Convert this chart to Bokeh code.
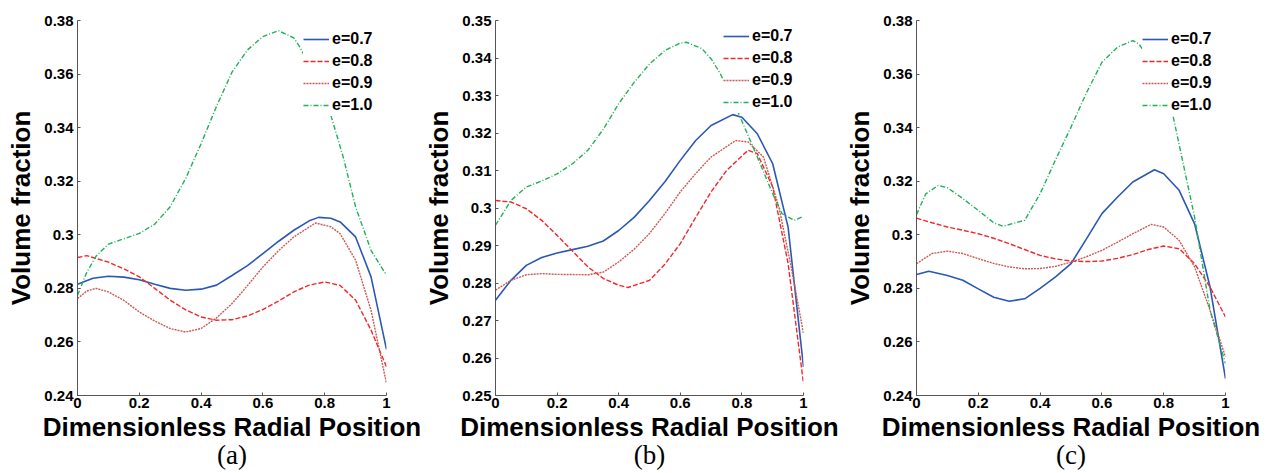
from bokeh.plotting import figure
from bokeh.models import FixedTicker, Legend, LegendItem, LinearAxis
from bokeh.layouts import row
from bokeh.embed import file_html
from bokeh.resources import INLINE

# ---------------- data ----------------
series_labels = ["e=0.7", "e=0.8", "e=0.9", "e=1.0"]
x_ticks = [0, 0.2, 0.4, 0.6, 0.8, 1]
x_tick_labels = ["0", "0.2", "0.4", "0.6", "0.8", "1"]
y_ticks_ac = [0.24, 0.26, 0.28, 0.3, 0.32, 0.34, 0.36, 0.38]
y_tick_labels_ac = ["0.24", "0.26", "0.28", "0.3", "0.32", "0.34", "0.36", "0.38"]
y_ticks_b = [0.25, 0.26, 0.27, 0.28, 0.29, 0.3, 0.31, 0.32, 0.33, 0.34, 0.35]
y_tick_labels_b = ["0.25", "0.26", "0.27", "0.28", "0.29", "0.3", "0.31", "0.32", "0.33", "0.34", "0.35"]
captions = ["(a)", "(b)", "(c)"]

# panel (a)
a_x07 = [0, 0.05, 0.1, 0.15, 0.2, 0.25, 0.3, 0.35, 0.4, 0.45, 0.5, 0.55, 0.6, 0.65, 0.7, 0.75, 0.78, 0.82, 0.85, 0.9, 0.95, 1.0]
a_y07 = [0.2815, 0.2838, 0.2845, 0.2842, 0.2832, 0.2815, 0.2800, 0.2793, 0.2797, 0.2812, 0.2848, 0.2885, 0.2930, 0.2975, 0.3017, 0.3052, 0.3065, 0.3062, 0.3048, 0.2992, 0.2843, 0.2572]
a_x08 = [0, 0.03, 0.1, 0.15, 0.2, 0.25, 0.3, 0.35, 0.4, 0.45, 0.5, 0.55, 0.6, 0.65, 0.7, 0.75, 0.8, 0.85, 0.9, 0.95, 1.0]
a_y08 = [0.2915, 0.2922, 0.2898, 0.2873, 0.2843, 0.2800, 0.2756, 0.2720, 0.2693, 0.2681, 0.2683, 0.2697, 0.2721, 0.2752, 0.2787, 0.2812, 0.2824, 0.2811, 0.2756, 0.2644, 0.2507]
a_x09 = [0, 0.03, 0.06, 0.1, 0.15, 0.2, 0.25, 0.3, 0.35, 0.4, 0.45, 0.5, 0.55, 0.6, 0.65, 0.7, 0.77, 0.82, 0.85, 0.9, 0.95, 1.0]
a_y09 = [0.2762, 0.2790, 0.2800, 0.2787, 0.2755, 0.2712, 0.2678, 0.2650, 0.2637, 0.2650, 0.2690, 0.2743, 0.2810, 0.2880, 0.2940, 0.2992, 0.3044, 0.3030, 0.3004, 0.2905, 0.2718, 0.2445]
a_x10 = [0, 0.03, 0.06, 0.1, 0.15, 0.2, 0.25, 0.3, 0.35, 0.4, 0.45, 0.5, 0.55, 0.6, 0.65, 0.7, 0.72, 0.77, 0.82, 0.86, 0.9, 0.95, 1.0]
a_y10 = [0.2774, 0.2860, 0.2920, 0.2965, 0.2985, 0.3005, 0.3040, 0.3105, 0.3210, 0.3340, 0.3480, 0.3607, 0.3690, 0.3740, 0.3762, 0.3735, 0.3700, 0.3590, 0.3446, 0.3290, 0.3104, 0.2942, 0.2849]

# panel (b)
b_x07 = [0, 0.05, 0.1, 0.15, 0.2, 0.25, 0.3, 0.35, 0.4, 0.45, 0.5, 0.55, 0.6, 0.65, 0.7, 0.77, 0.8, 0.85, 0.9, 0.95, 1.0]
b_y07 = [0.2754, 0.2807, 0.2847, 0.2868, 0.2880, 0.2889, 0.2898, 0.2912, 0.2940, 0.2975, 0.3020, 0.3070, 0.3127, 0.3180, 0.3220, 0.3249, 0.3242, 0.3198, 0.3118, 0.2949, 0.2576]
b_x08 = [0, 0.05, 0.1, 0.15, 0.2, 0.25, 0.3, 0.35, 0.4, 0.43, 0.5, 0.55, 0.6, 0.65, 0.7, 0.75, 0.82, 0.85, 0.9, 0.95, 1.0]
b_y08 = [0.3020, 0.3016, 0.2998, 0.2967, 0.2927, 0.2885, 0.2843, 0.2812, 0.2794, 0.2788, 0.2807, 0.2850, 0.2905, 0.2975, 0.3043, 0.3100, 0.3154, 0.3145, 0.3056, 0.2852, 0.2532]
b_x09 = [0, 0.05, 0.1, 0.15, 0.2, 0.3, 0.35, 0.4, 0.45, 0.5, 0.55, 0.6, 0.65, 0.7, 0.78, 0.82, 0.87, 0.92, 0.96, 1.0]
b_y09 = [0.2781, 0.2807, 0.2822, 0.2825, 0.2823, 0.2822, 0.2829, 0.2856, 0.2890, 0.2932, 0.2985, 0.3043, 0.3092, 0.3136, 0.3180, 0.3176, 0.3136, 0.3003, 0.2843, 0.2665]
b_x10 = [0, 0.05, 0.1, 0.15, 0.2, 0.25, 0.3, 0.35, 0.4, 0.45, 0.5, 0.55, 0.6, 0.62, 0.67, 0.7, 0.73, 0.76, 0.79, 0.85, 0.9, 0.93, 0.97, 1.0]
b_y10 = [0.2954, 0.3020, 0.3056, 0.3072, 0.3091, 0.3118, 0.3154, 0.3210, 0.3278, 0.3335, 0.3384, 0.3420, 0.3440, 0.3442, 0.3425, 0.3398, 0.3358, 0.3305, 0.3251, 0.3136, 0.3038, 0.2985, 0.2967, 0.2978]

# panel (c)
c_x07 = [0, 0.04, 0.1, 0.15, 0.2, 0.25, 0.3, 0.35, 0.4, 0.45, 0.5, 0.55, 0.6, 0.65, 0.7, 0.77, 0.8, 0.85, 0.9, 0.95, 1.0]
c_y07 = [0.2852, 0.2864, 0.2848, 0.2830, 0.2798, 0.2767, 0.2752, 0.2761, 0.2800, 0.2843, 0.2892, 0.2985, 0.3079, 0.3140, 0.3197, 0.3243, 0.3228, 0.3166, 0.3041, 0.2805, 0.2463]
c_x08 = [0, 0.05, 0.1, 0.15, 0.2, 0.25, 0.3, 0.35, 0.4, 0.45, 0.5, 0.55, 0.6, 0.65, 0.7, 0.75, 0.8, 0.85, 0.9, 0.95, 1.0]
c_y08 = [0.3062, 0.3045, 0.3029, 0.3017, 0.3004, 0.2987, 0.2967, 0.2945, 0.2923, 0.2910, 0.2902, 0.2900, 0.2902, 0.2912, 0.2926, 0.2945, 0.2958, 0.2948, 0.2892, 0.2805, 0.2693]
c_x09 = [0, 0.05, 0.1, 0.15, 0.2, 0.25, 0.3, 0.35, 0.4, 0.45, 0.5, 0.55, 0.6, 0.65, 0.7, 0.76, 0.8, 0.85, 0.9, 0.95, 1.0]
c_y09 = [0.2892, 0.2930, 0.2939, 0.2930, 0.2911, 0.2893, 0.2880, 0.2873, 0.2874, 0.2882, 0.2898, 0.2918, 0.2942, 0.2972, 0.3004, 0.3039, 0.3029, 0.2979, 0.2880, 0.2718, 0.2544]
c_x10 = [0, 0.03, 0.07, 0.1, 0.15, 0.2, 0.25, 0.28, 0.35, 0.4, 0.45, 0.5, 0.55, 0.6, 0.65, 0.7, 0.72, 0.76, 0.8, 0.83, 0.9, 0.95, 1.0]
c_y10 = [0.3075, 0.3153, 0.3184, 0.3176, 0.3135, 0.3091, 0.3045, 0.3032, 0.3054, 0.3153, 0.3280, 0.3402, 0.3530, 0.3644, 0.3700, 0.3725, 0.3713, 0.3640, 0.3530, 0.3445, 0.3066, 0.2718, 0.2519]

# ---------------- styles ----------------
COLORS = ["#2a58b4", "#f0282d", "#cc5a52", "#22b05a"]
DASHES = ["solid", "5 2", "2 1", "5 2 1 2"]
WIDTHS = [1.6, 1.4, 1.4, 1.4]
FONT = "Liberation Sans"
AXIS_COLOR = "#555555"


def make_panel(series, yrange, yticks, ylabels, caption, width, bl, br, leg_loc):
    p = figure(width=width, height=472, x_range=(0, 1), y_range=yrange,
               output_backend="svg", toolbar_location=None,
               min_border_left=bl, min_border_right=br, min_border_top=20,
               min_border_bottom=77)
    p.outline_line_color = None
    p.grid.visible = False
    p.background_fill_color = "white"

    for ax in (p.xaxis[0], p.yaxis[0]):
        ax.axis_line_color = AXIS_COLOR
        ax.major_tick_line_color = AXIS_COLOR
        ax.major_tick_in = 3
        ax.major_tick_out = 0
        ax.minor_tick_line_color = None
        ax.major_label_text_font = FONT
        ax.major_label_text_font_style = "bold"
        ax.major_label_text_font_size = "15px"
        ax.major_label_text_color = "black"
        ax.major_label_standoff = 4
        ax.axis_label_text_font = FONT
        ax.axis_label_text_font_style = "bold"
        ax.axis_label_text_font_size = "26px"
        ax.axis_label_text_color = "black"

    p.xaxis.ticker = FixedTicker(ticks=x_ticks)
    p.xaxis.major_label_overrides = {t: l for t, l in zip(x_ticks, x_tick_labels)}
    p.yaxis.ticker = FixedTicker(ticks=yticks)
    p.yaxis.major_label_overrides = {t: l for t, l in zip(yticks, ylabels)}
    p.xaxis.axis_label = "Dimensionless Radial Position"
    p.yaxis.axis_label = "Volume fraction"
    p.xaxis.major_label_standoff = 2
    p.xaxis.axis_label_standoff = 1
    p.yaxis.axis_label_standoff = 5

    cap = LinearAxis(ticker=FixedTicker(ticks=[]), axis_label=caption,
                     axis_line_color=None, major_tick_line_color=None,
                     minor_tick_line_color=None, major_tick_in=0, major_tick_out=0,
                     minor_tick_in=0, minor_tick_out=0,
                     major_label_text_font_size="0px", major_label_standoff=0,
                     axis_label_standoff=-5, axis_label_text_font="Liberation Serif",
                     axis_label_text_font_style="normal", axis_label_text_font_size="27px",
                     axis_label_text_color="black")
    p.add_layout(cap, "below")

    items = []
    for (xs, ys), lab, c, d, w in zip(series, series_labels, COLORS, DASHES, WIDTHS):
        r = p.line(xs, ys, line_color=c, line_dash=d, line_width=w)
        items.append(LegendItem(label=lab, renderers=[r]))

    leg = Legend(items=items, location=leg_loc, padding=3, margin=0,
                 spacing=0, glyph_width=26, glyph_height=22, label_height=22,
                 label_standoff=3, border_line_color=None,
                 background_fill_color="white", background_fill_alpha=1.0,
                 label_text_font=FONT, label_text_font_style="bold",
                 label_text_font_size="16px", label_text_color="black")
    p.add_layout(leg, "center")
    return p


pa = make_panel([(a_x07, a_y07), (a_x08, a_y08), (a_x09, a_y09), (a_x10, a_y10)],
                (0.24, 0.38), y_ticks_ac, y_tick_labels_ac, captions[0], 420, 77, 34, (226, 279))
pb = make_panel([(b_x07, b_y07), (b_x08, b_y08), (b_x09, b_y09), (b_x10, b_y10)],
                (0.25, 0.35), y_ticks_b, y_tick_labels_b, captions[1], 421, 75, 38, (228, 282))
pc = make_panel([(c_x07, c_y07), (c_x08, c_y08), (c_x09, c_y09), (c_x10, c_y10)],
                (0.24, 0.38), y_ticks_ac, y_tick_labels_ac, captions[2], 427, 75, 43, (226, 279))

layout = row(pa, pb, pc)
open("out.html", "w").write(file_html(layout, INLINE))
